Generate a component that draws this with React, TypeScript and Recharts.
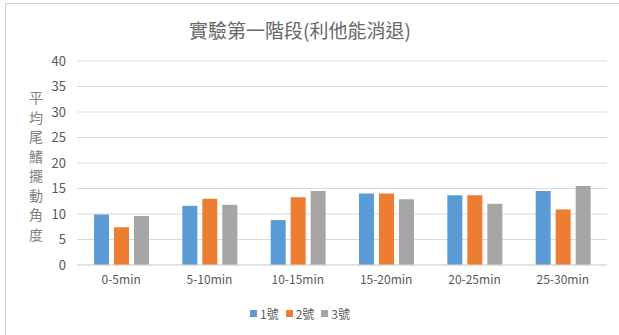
import React from 'react'
import { BarChart, Bar, XAxis, YAxis, CartesianGrid } from 'recharts'

const categories = ['0-5min', '5-10min', '10-15min', '15-20min', '20-25min', '25-30min']
const fish1 = [9.9, 11.6, 8.8, 14.0, 13.7, 14.5]
const fish2 = [7.4, 13.0, 13.3, 14.0, 13.7, 10.9]
const fish3 = [9.6, 11.8, 14.5, 12.9, 12.0, 15.5]
const yTicks = [0, 5, 10, 15, 20, 25, 30, 35, 40]

const series = [
  { key: 'a', name: '1號', color: '#5B9BD5', values: fish1 },
  { key: 'b', name: '2號', color: '#ED7D31', values: fish2 },
  { key: 'c', name: '3號', color: '#A5A5A5', values: fish3 },
]

const data = categories.map((c, i) => ({
  cat: c,
  a: fish1[i],
  b: fish2[i],
  c: fish3[i],
}))

const TITLE = '實驗第一階段(利他能消退)'
const Y_LABEL = '平均尾鰭擺動角度'

const FONT = '"Noto Sans CJK TC", "Noto Sans", sans-serif'

export default function App() {
  return (
    <div style={{ position: 'relative', width: 619, height: 335, background: '#fff', fontFamily: FONT }}>
      <style>{'body{margin:0}'}</style>
      {/* outer chart frame */}
      <div
        style={{
          position: 'absolute',
          left: 5,
          top: 3,
          width: 620,
          height: 331,
          borderLeft: '1px solid #d0d0d0',
          borderTop: '1px solid #d0d0d0',
          borderBottom: '1px solid #e6e6e6',
        }}
      />
      <div
        style={{
          position: 'absolute',
          left: 0,
          width: 600,
          top: 18,
          textAlign: 'center',
          fontSize: 19,
          color: '#666666',
          lineHeight: '24px',
        }}
      >
        {TITLE}
      </div>
      {/* vertical axis title, one character per line */}
      <div
        style={{
          position: 'absolute',
          left: 28,
          top: 88,
          width: 16,
          fontSize: 14,
          lineHeight: '19.5px',
          color: '#7f7f7f',
          textAlign: 'center',
        }}
      >
        {Y_LABEL.split('').map((ch, i) => (
          <div key={i}>{ch}</div>
        ))}
      </div>
      <BarChart
        width={619}
        height={335}
        data={data}
        margin={{ top: 61, right: 12, left: 0, bottom: 40 }}
        barSize={15}
        barGap={5}
        style={{ position: 'absolute', left: 0, top: 0 }}
      >
        <CartesianGrid vertical={false} stroke="#d9d9d9" />
        <XAxis
          dataKey="cat"
          height={30}
          axisLine={{ stroke: '#d9d9d9' }}
          tickLine={false}
          tickSize={0}
          tickMargin={10}
          tick={{ fontSize: 12, fill: '#595959' }}
          interval={0}
        />
        <YAxis
          width={77}
          domain={[0, 40]}
          ticks={yTicks}
          axisLine={false}
          tickLine={false}
          tickSize={0}
          tickMargin={11}
          tick={{ fontSize: 13, fill: '#595959' }}
        />
        {series.map(s => (
          <Bar key={s.key} dataKey={s.key} name={s.name} fill={s.color} isAnimationActive={false} />
        ))}
      </BarChart>
      {/* legend */}
      <div
        style={{
          position: 'absolute',
          top: 305,
          left: 0,
          width: 600,
          display: 'flex',
          justifyContent: 'center',
          gap: 7,
          fontSize: 12,
          color: '#595959',
        }}
      >
        {series.map(s => (
          <div key={s.key} style={{ display: 'flex', alignItems: 'center', gap: 3 }}>
            <span style={{ width: 7, height: 7, background: s.color, display: 'inline-block' }} />
            <span>{s.name}</span>
          </div>
        ))}
      </div>
    </div>
  )
}
